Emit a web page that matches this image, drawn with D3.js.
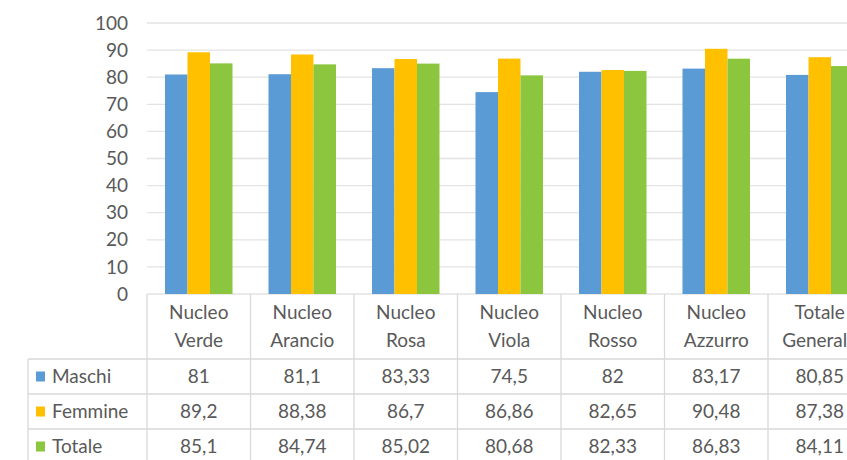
<!DOCTYPE html>
<html>
<head>
<meta charset="utf-8">
<script src="https://cdn.jsdelivr.net/npm/d3@7"></script>
<style>
  body { margin: 0; background: #fff; }
  svg { display: block; font-family: Lato, "Open Sans", sans-serif; }
</style>
</head>
<body>
<svg id="chart"></svg>
<script>
// categories (two text lines each) and series
const categories = [
  ['Nucleo', 'Verde'], ['Nucleo', 'Arancio'], ['Nucleo', 'Rosa'], ['Nucleo', 'Viola'],
  ['Nucleo', 'Rosso'], ['Nucleo', 'Azzurro'], ['Totale', 'Generale']
];
const seriesNames = ['Maschi', 'Femmine', 'Totale'];
const maschi  = [81, 81.1, 83.33, 74.5, 82, 83.17, 80.85];
const femmine = [89.2, 88.38, 86.7, 86.86, 82.65, 90.48, 87.38];
const totale  = [85.1, 84.74, 85.02, 80.68, 82.33, 86.83, 84.11];
const yTicks = [0, 10, 20, 30, 40, 50, 60, 70, 80, 90, 100];
const colors = ['#5B9BD5', '#FFC000', '#8CC63F'];

const series = [maschi, femmine, totale];
const width = 847, height = 460;
const plotLeft = 147, bandW = 103.5;
const tableLeft = 28, rowsTop = 359, rowH = 35;
const fs = 19;

const svg = d3.select('#chart').attr('width', width).attr('height', height);

const x = d3.scaleBand()
  .domain(categories.map((d, i) => i))
  .range([plotLeft, plotLeft + bandW * categories.length]);

// the three bars of a category sit in the middle of its band
const xInner = d3.scaleBand()
  .domain(seriesNames)
  .range([18, bandW - 18]);

const y = d3.scaleLinear().domain([0, 100]).range([294, 23]);

// gridlines
svg.append('g')
  .selectAll('line')
  .data(yTicks)
  .join('line')
  .attr('x1', plotLeft).attr('x2', width)
  .attr('y1', d => y(d)).attr('y2', d => y(d))
  .attr('stroke', '#e3e3e3').attr('stroke-width', 1.3);

// y axis labels
svg.append('g')
  .selectAll('text')
  .data(yTicks)
  .join('text')
  .attr('x', 128)
  .attr('y', d => y(d))
  .attr('dy', '0.35em')
  .attr('text-anchor', 'end')
  .attr('fill', '#595959')
  .attr('font-size', fs)
  .text(d => d);

// bars
const groups = svg.append('g')
  .selectAll('g')
  .data(categories.map((c, i) => i))
  .join('g')
  .attr('transform', i => `translate(${x(i)},0)`);

groups.selectAll('rect')
  .data(i => seriesNames.map((s, k) => ({ s, k, v: series[k][i] })))
  .join('rect')
  .attr('x', d => xInner(d.s))
  .attr('width', xInner.bandwidth())
  .attr('y', d => y(d.v))
  .attr('height', d => y(0) - y(d.v))
  .attr('fill', d => colors[d.k]);

// data table lines
const tbl = svg.append('g').attr('stroke', '#d9d9d9').attr('stroke-width', 1.3);
d3.range(categories.length + 1).forEach(i => {
  const xx = plotLeft + i * bandW;
  tbl.append('line').attr('x1', xx).attr('x2', xx).attr('y1', 294).attr('y2', height);
});
tbl.append('line').attr('x1', tableLeft).attr('x2', tableLeft).attr('y1', rowsTop).attr('y2', height);
d3.range(seriesNames.length + 1).forEach(r => {
  const yy = rowsTop + r * rowH;
  tbl.append('line').attr('x1', tableLeft).attr('x2', width).attr('y1', yy).attr('y2', yy);
});

// category header labels
const header = svg.append('g')
  .selectAll('text')
  .data(categories)
  .join('text')
  .attr('text-anchor', 'middle')
  .attr('fill', '#595959')
  .attr('font-size', fs)
  .attr('transform', (d, i) => `translate(${x(i) + x.bandwidth() / 2},0)`);
header.append('tspan').attr('x', 0).attr('y', 319).text(d => d[0]);
header.append('tspan').attr('x', 0).attr('y', 347).text(d => d[1]);

// legend keys + series names
const rows = svg.append('g')
  .selectAll('g')
  .data(seriesNames)
  .join('g')
  .attr('transform', (d, r) => `translate(0,${rowsTop + r * rowH + rowH / 2})`);

rows.append('rect')
  .attr('x', 36).attr('y', -5).attr('width', 9).attr('height', 10)
  .attr('fill', (d, r) => colors[r]);

rows.append('text')
  .attr('x', 52).attr('dy', '0.35em')
  .attr('fill', '#595959').attr('font-size', fs)
  .text(d => d);

// values
rows.selectAll('text.val')
  .data((d, r) => series[r])
  .join('text')
  .attr('class', 'val')
  .attr('x', (v, i) => x(i) + x.bandwidth() / 2)
  .attr('dy', '0.35em')
  .attr('text-anchor', 'middle')
  .attr('fill', '#595959').attr('font-size', fs)
  .text(v => String(v).replace('.', ','));
</script>
</body>
</html>
